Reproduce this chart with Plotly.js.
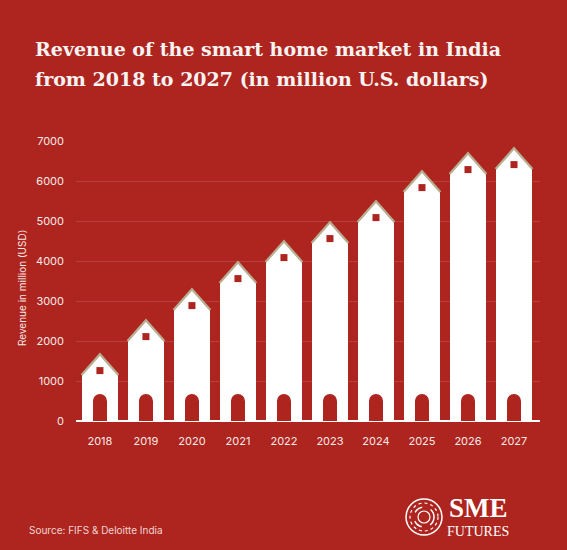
<!DOCTYPE html>
<html>
<head>
<meta charset="utf-8">
<script src="https://cdn.plot.ly/plotly-3.0.1.min.js"></script>
<style>
  html, body { margin: 0; padding: 0; background: #ae241e; }
  #chart { width: 567px; height: 550px; }
</style>
</head>
<body>
<div id="chart"></div>
<script>
// ---- data ----
const years = ["2018", "2019", "2020", "2021", "2022", "2023", "2024", "2025", "2026", "2027"];
const revenue = [1150, 2000, 2775, 3450, 3975, 4450, 4975, 5725, 6175, 6300];
const yTicks = [0, 1000, 2000, 3000, 4000, 5000, 6000, 7000];

// ---- style constants ----
const RED = "#ae241e";
const WHITE = "#ffffff";
const ROOF = "#b8ad90";
const ROOF_H = 520;      // roof height in axis units
const HALF = 0.40;       // roof half width
const DOOR_H = 500;      // door straight part height
const WIN_OFF = 110;     // window offset above eave

const xs = years.map((_, i) => i);

// roof polygons built from the data
const roofX = [], roofY = [];
revenue.forEach((v, i) => {
  roofX.push(i - HALF, i, i + HALF, null);
  roofY.push(v, v + ROOF_H, v, null);
});

const traces = [
  { type: "bar", x: xs, y: revenue, width: 0.78,
    marker: { color: WHITE, line: { width: 0 } }, hoverinfo: "skip" },
  { type: "scatter", mode: "lines", x: roofX, y: roofY, fill: "toself",
    fillcolor: WHITE, line: { color: ROOF, width: 2.2 }, connectgaps: false, hoverinfo: "skip" },
  { type: "bar", x: xs, y: revenue.map(() => DOOR_H), width: 0.30,
    marker: { color: RED, line: { width: 0 } }, hoverinfo: "skip" },
  { type: "scatter", mode: "markers", x: xs, y: revenue.map(() => DOOR_H),
    marker: { symbol: "circle", size: 14, color: RED, line: { width: 0 } }, hoverinfo: "skip" },
  { type: "scatter", mode: "markers", x: xs, y: revenue.map(v => v + WIN_OFF),
    marker: { symbol: "square", size: 7, color: RED, line: { width: 0 } }, hoverinfo: "skip" }
];

const px = p => (p - 76) / 464;       // pixel x -> paper
const py = p => (421 - p) / 280;      // pixel y -> paper

const logoCx = px(424), logoCy = py(517);
const ring = (r, w, dash) => ({
  type: "circle", xref: "paper", yref: "paper",
  xsizemode: "pixel", ysizemode: "pixel",
  xanchor: logoCx, yanchor: logoCy,
  x0: -r, x1: r, y0: -r, y1: r,
  line: { color: WHITE, width: w, dash: dash }
});

const layout = {
  width: 567, height: 550,
  paper_bgcolor: RED, plot_bgcolor: RED,
  margin: { l: 76, r: 27, t: 141, b: 129 },
  showlegend: false,
  barmode: "overlay",
  bargap: 0,
  hovermode: false,
  xaxis: {
    range: [-0.52, 9.565],
    tickmode: "array", tickvals: xs, ticktext: years,
    showgrid: false, zeroline: false, showline: false, ticks: "",
    ticklabelstandoff: 12,
    tickfont: { family: "Inter, Roboto, sans-serif", size: 11, color: "#f6e9e7" }
  },
  yaxis: {
    range: [0, 7000],
    tickmode: "array", tickvals: yTicks,
    showgrid: true, gridcolor: "rgba(255,255,255,0.13)", gridwidth: 1,
    zeroline: true, zerolinecolor: WHITE, zerolinewidth: 1.5,
    showline: false, ticks: "",
    ticklabelstandoff: 11,
    tickfont: { family: "Inter, Roboto, sans-serif", size: 11, color: "#f6e9e7" }
  },
  annotations: [
    { text: "<b>Revenue of the smart home market in India</b>", xref: "paper", yref: "paper",
      x: px(33), y: py(49), xanchor: "left", yanchor: "middle", showarrow: false,
      font: { family: "DejaVu Serif, serif", size: 19, color: "#f7f3f2" } },
    { text: "<b>from 2018 to 2027 (in million U.S. dollars)</b>", xref: "paper", yref: "paper",
      x: px(33), y: py(79), xanchor: "left", yanchor: "middle", showarrow: false,
      font: { family: "DejaVu Serif, serif", size: 19, color: "#f7f3f2" } },
    { text: "Revenue in million (USD)", xref: "paper", yref: "paper",
      x: px(22), y: py(288), xanchor: "center", yanchor: "middle", textangle: -90, showarrow: false,
      font: { family: "Inter, Roboto, sans-serif", size: 10, color: "#f6e9e7" } },
    { text: "Source: FIFS &amp; Deloitte India", xref: "paper", yref: "paper",
      x: px(27), y: py(530), xanchor: "left", yanchor: "middle", showarrow: false,
      font: { family: "Inter, Roboto, sans-serif", size: 10, color: "#f0d6d3" } },
    { text: "<b>SME</b>", xref: "paper", yref: "paper",
      x: px(478), y: py(508), xanchor: "center", yanchor: "middle", showarrow: false,
      font: { family: "Liberation Serif, serif", size: 27, color: WHITE } },
    { text: "FUTURES", xref: "paper", yref: "paper",
      x: px(478), y: py(531), xanchor: "center", yanchor: "middle", showarrow: false,
      font: { family: "Liberation Serif, serif", size: 14, color: WHITE } }
  ],
  shapes: [
    ring(18, 1.5, "solid"),
    ring(14, 1.2, "dot"),
    ring(10, 1.5, "dash"),
    ring(6, 1.2, "solid")
  ]
};

Plotly.newPlot("chart", traces, layout, { displayModeBar: false, staticPlot: true });
</script>
</body>
</html>
